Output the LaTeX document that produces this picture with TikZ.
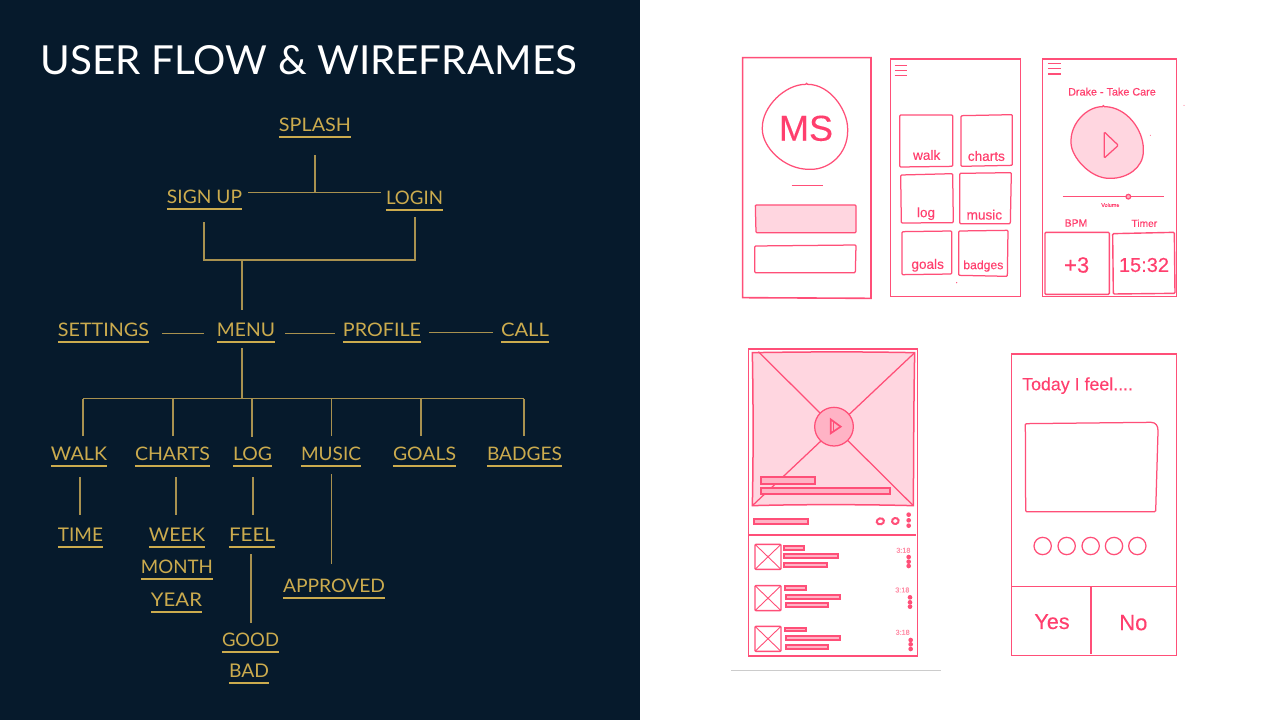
\documentclass[tikz,border=0pt]{standalone}
\usepackage{fontspec}
\setmainfont[FakeBold=0.2]{Liberation Sans}
\newfontfamily\labfont{Lato}
\usetikzlibrary{calc}
\definecolor{navy}{HTML}{061A2C}
\definecolor{goldtxt}{HTML}{CBAB4E}
\definecolor{goldline}{HTML}{A8914F}
\definecolor{rosa}{HTML}{FF4F78}
\definecolor{rosatxt}{HTML}{FF3F6E}
\definecolor{rosalite}{HTML}{FFD6E0}
\definecolor{rosamid}{HTML}{FFB3C5}
\definecolor{rosapale}{HTML}{FF8FA8}
\tikzset{
  lab/.style={inner sep=0pt,minimum height=24pt,anchor=south,text=goldtxt,font=\labfont},
  uline/.style={draw=goldtxt,line width=1.4pt},
  link/.style={draw=goldline,line width=1.1pt},
  sk/.style={draw=rosa,line width=1.25pt,rounded corners=1pt},
  frm/.style={draw=rosa,line width=1.6pt},
  divd/.style={draw=rosa,line width=1.3pt},
  fillsk/.style={sk,fill=rosalite},
  bar/.style={draw=rosa,line width=1.7pt,fill=rosamid},
  wt/.style={inner sep=0pt,text=rosatxt},
}
\newcommand\lab[5]{%
  \pgfmathsetlengthmacro\labw{#3-#2}%
  \node[lab,minimum width=\labw] (#1) at ({(#2+#3)/2},#4) {\resizebox{\labw}{13.5pt}{#5}};
  \draw[uline] (#1.south west) -- (#1.south east);}
\begin{document}
\begin{tikzpicture}[x=1pt,y=-1pt]
\useasboundingbox (0,0) rectangle (1280,720);
\fill[white] (0,0) rectangle (1280,720);
\fill[navy] (0,0) rectangle (640,720);
\node[inner sep=0pt,text=white,font=\labfont] (title) at (309,60.5) {\resizebox{536pt}{29pt}{USER FLOW \& WIREFRAMES}};
\lab{splash}{279}{351}{137}{SPLASH}
\lab{signup}{167}{242}{209}{SIGN UP}
\lab{login}{386}{443}{210}{LOGIN}
\lab{settings}{58}{149}{342}{SETTINGS}
\lab{menu}{217}{275}{342}{MENU}
\lab{profile}{343}{421}{342}{PROFILE}
\lab{call}{501}{549}{342}{CALL}
\lab{walk}{51}{107}{466}{WALK}
\lab{charts}{135}{210}{466}{CHARTS}
\lab{log}{233}{272}{466}{LOG}
\lab{music}{301}{361}{466}{MUSIC}
\lab{goals}{393}{456}{466}{GOALS}
\lab{badges}{487}{562}{466}{BADGES}
\lab{time}{58}{103}{547}{TIME}
\lab{week}{149}{205}{547}{WEEK}
\lab{feel}{229}{275}{547}{FEEL}
\lab{month}{141}{213}{579}{MONTH}
\lab{year}{151}{202}{612}{YEAR}
\lab{approved}{283}{385}{598}{APPROVED}
\lab{good}{222}{279}{652}{GOOD}
\lab{bad}{229}{269}{683}{BAD}
% connectors
\coordinate (j1) at (315,193);
\draw[link] ($(splash.south)+(0,18)$) -- (j1);
\draw[link] ($(signup.east)+(6,-4)$) -- ($(login.west)+(-5,-5)$);
\coordinate (j2) at (242,260);
\draw[link] ($(signup.south)+(-0.5,13)$) |- (j2) -| ($(login.south)+(0.5,7)$);
\draw[link] (j2) -- ($(menu.north)+(-4,-8)$);
\draw[link] ($(settings.east)+(13,4)$) -- ($(menu.west)+(-13,4)$);
\draw[link] ($(menu.east)+(10,4)$) -- ($(profile.west)+(-8,4)$);
\draw[link] ($(profile.east)+(8,3)$) -- ($(call.west)+(-8,3)$);
\coordinate (busM) at (242,398.5);
\coordinate (busL) at (83,398.5);
\coordinate (busR) at (524,398.5);
\draw[link] ($(menu.south)+(-4,6)$) -- (busM);
\draw[link] (busL) -- (busR);
\coordinate (dw) at ($(walk.north)+(4,-6)$);
\coordinate (dc) at ($(charts.north)+(0.5,-6)$);
\coordinate (dl) at ($(log.north)+(-0.5,-5)$);
\coordinate (dm) at ($(music.north)+(0.5,-6)$);
\coordinate (dg) at ($(goals.north)+(-3.5,-6)$);
\coordinate (db) at ($(badges.north)+(-0.5,-6)$);
\foreach \d in {dw,dc,dl,dm,dg,db} \draw[link] (\d) -- (\d |- busL);
\draw[link] ($(walk.south)+(1,11)$) -- ($(time.north)+(-0.5,-8)$);
\draw[link] ($(charts.south)+(3.5,11)$) -- ($(week.north)+(-1,-8)$);
\draw[link] ($(log.south)+(0.5,11)$) -- ($(feel.north)+(1,-8)$);
\draw[link] ($(music.south)+(0.5,8)$) -- ($(approved.north)+(-2.5,-10)$);
\draw[link] ($(feel.south)+(-1,7)$) -- ($(good.north)+(0.5,-5)$);
% top row of wireframes
\begin{scope}[shift={(730,40)},x=0.33333pt,y=-0.33333pt]
\draw[frm] (38,53)--(423,53)--(423,775)--(38,773)--cycle;
\draw[sk] (230,133) .. controls (300,133) and (353,210) .. (353,270) .. controls (353,340) and (300,388) .. (240,388) .. controls (160,388) and (97,320) .. (97,265) .. controls (97,200) and (165,133) .. (230,133) -- cycle;
\node[wt,font=\fontsize{36}{36}\selectfont] (ms) at (228,265) {MS};
\draw[sk] (185,436)--(280,436);
\draw[fillsk] (76,495)--(378,495)--(378,578)--(78,578)--cycle;
\draw[sk] (74,618)--(378,615)--(376,698)--(74,698)--cycle;
\draw[frm] (481,57)--(871,57)--(871,769)--(481,769)--cycle;
\foreach \y in {76,91,106} \draw[sk] (494,\y)--(532,\y);
\draw[sk] (509,225)--(668,225)--(668,379)--(509,381)--cycle;
\draw[sk] (693,227)--(847,224)--(847,376)--(693,379)--cycle;
\draw[sk] (512,405)--(668,401)--(670,548)--(514,549)--cycle;
\draw[sk] (689,400)--(844,398)--(841,551)--(689,551)--cycle;
\draw[sk] (516,575)--(665,573)--(665,702)--(516,704)--cycle;
\draw[sk] (686,573)--(834,571)--(832,709)--(686,706)--cycle;
\node[wt,font=\fontsize{13.6}{14}\selectfont] (twalk) at (590,345) {walk};
\node[wt,font=\fontsize{13.6}{14}\selectfont] (tcharts) at (769,348) {charts};
\node[wt,font=\fontsize{13.6}{14}\selectfont] (tlog) at (588,521) {log};
\node[wt,font=\fontsize{13.6}{14}\selectfont] (tmusic) at (763,524) {music};
\node[wt,font=\fontsize{13.6}{14}\selectfont] (tgoals) at (593,676) {goals};
\node[wt,font=\fontsize{12.2}{14}\selectfont] (tbadges) at (760,678) {badges};
\fill[rosa] (680,728) circle (2);
\draw[frm] (937,57)--(1339,57)--(1339,770)--(937,770)--cycle;
\foreach \y in {70,86,102} \draw[sk] (955,\y)--(992,\y);
\node[wt,font=\fontsize{10.8}{12}\selectfont] (tdrake) at (1146,155) {Drake - Take Care};
\draw[fillsk] (1120,200) .. controls (1190,200) and (1240,270) .. (1240,330) .. controls (1240,385) and (1190,415) .. (1140,415) .. controls (1080,415) and (1023,350) .. (1023,305) .. controls (1023,250) and (1070,200) .. (1120,200) -- cycle;
\draw[sk] (1123,276)--(1165,316)--(1123,354)--cycle;
\draw[sk] (998,469)--(1303,469);
\draw[sk,fill=rosamid] (1195,470) circle (7);
\node[wt,font=\fontsize{5.4}{6}\selectfont] (tvol) at (1141,495) {Volume};
\node[wt,font=\fontsize{10.4}{12}\selectfont] (tbpm) at (1038,549) {BPM};
\node[wt,font=\fontsize{10.2}{12}\selectfont] (ttimer) at (1243,550) {Timer};
\draw[sk,line width=1.4pt] (945,577)--(1138,577)--(1138,763)--(945,763)--cycle;
\draw[sk,line width=1.4pt] (1148,581)--(1333,577)--(1335,760)--(1150,762)--cycle;
\node[wt,font=\fontsize{22}{24}\selectfont] (tplus) at (1040,675) {+3};
\node[wt,font=\fontsize{20}{24}\selectfont] (tclock) at (1242,675) {15:32};
\fill[rosa] (1362,196) circle (1.5);
\fill[rosa] (1261,286) circle (1.5);
\end{scope}
% video screen
\begin{scope}[shift={(730,340)},x=0.33333pt,y=-0.33333pt]
\draw[frm] (56,27)--(563,27)--(563,948)--(56,948)--cycle;
\draw[draw=rosa,fill=rosalite,line width=1.5pt] (67,38) .. controls (250,35) and (400,35) .. (554,38) .. controls (551,200) and (551,350) .. (550,497) .. controls (400,493) and (200,493) .. (67,497) .. controls (70,350) and (70,200) .. (67,38) -- cycle;
\draw[sk] (85,35)--(550,497);
\draw[sk] (67,497)--(554,38);
\draw[sk,fill=rosamid] (312,260) circle (58);
\draw[draw=rosa,line width=1.7pt] (302,238)--(332,260)--(302,280)--cycle;
\draw[sk] (310,243)--(310,272);
\draw[bar] (94,411) rectangle (255,433);
\draw[bar] (92,443) rectangle (479,463);
\draw[bar] (73,537) rectangle (234,553);
\draw[draw=rosa,line width=2pt,rotate around={15:(451,544)}] (451,544) ellipse (11 and 9);
\draw[draw=rosa,line width=2pt,rotate around={15:(496,543)}] (496,543) ellipse (10 and 9);
\foreach \x/\y in {536/524,536/541,536/557,536/651,536/665,536/678,540/772,540/787,540/800,542/900,542/913,542/927} \fill[rosa] (\x,\y) circle (7);
\draw[divd] (56,585)--(558,585);
\foreach \t in {613,737,859} {
  \draw[sk,line width=1.4pt] (75,\t) rectangle (153,\t+75);
  \draw[sk,line width=0.9pt] (75,\t)--(153,\t+75);
  \draw[sk,line width=0.9pt] (75,\t+75)--(153,\t);
}
\foreach \x/\y in {161/618,166/738,166/863} \draw[bar] (\x,\y) rectangle (\x+61,\y+11);
\foreach \x/\y in {162/643,167/764,167/889} \draw[bar] (\x,\y) rectangle (\x+162,\y+12);
\foreach \x/\y in {162/669,167/790,167/915} \draw[bar] (\x,\y) rectangle (\x+128,\y+12);
\node[wt,text=rosapale,font=\fontsize{7.2}{8}\selectfont] (ta) at (520,631) {3:18};
\node[wt,text=rosapale,font=\fontsize{7.2}{8}\selectfont] (tb) at (517,750) {3:18};
\node[wt,text=rosapale,font=\fontsize{7.2}{8}\selectfont] (tc) at (518,877) {3:18};
\draw[draw=black!20,line width=0.9pt] (3,991)--(632,991);
\end{scope}
% mood screen
\begin{scope}[shift={(1000,340)},x=0.33333pt,y=-0.33333pt]
\draw[frm] (34,42)--(529,42)--(529,946)--(34,946)--cycle;
\node[wt,anchor=west,font=\fontsize{17.8}{18}\selectfont] (tfeel) at (66,137) {Today I feel....};
\draw[sk] (76,251)--(450,247) .. controls (468,247) and (474,258) .. (474,275) -- (467,515)--(77,515)--cycle;
\foreach \x in {128,200,272,342,412} \draw[sk] (\x,618) circle (26);
\draw[divd] (34,739)--(529,739);
\draw[divd] (273,739)--(273,942);
\node[wt,font=\fontsize{21.6}{24}\selectfont] (tyes) at (156,845) {Yes};
\node[wt,font=\fontsize{22}{24}\selectfont] (tno) at (400,848) {No};
\end{scope}
\end{tikzpicture}
\end{document}
